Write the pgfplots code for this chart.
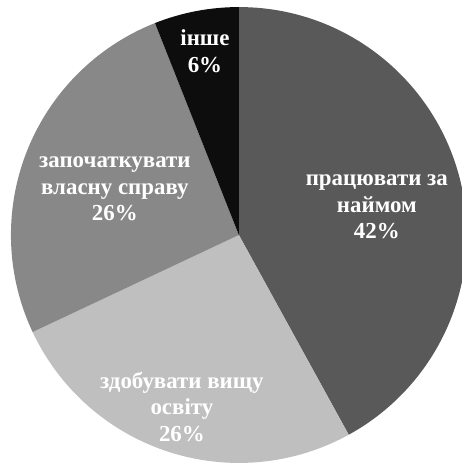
\documentclass[border=0pt]{standalone}
\usepackage{pgfplots}
\usepackage{pgfplotstable}
\pgfplotsset{compat=1.18}
\usepackage{fontspec}
\setmainfont{Liberation Serif}
\definecolor{cDark}{HTML}{595959}
\definecolor{cLight}{HTML}{BFBFBF}
\definecolor{cMid}{HTML}{888888}
\definecolor{cBlack}{HTML}{0D0D0D}
\pgfplotstableread{
idx value
0 42
1 26
2 26
3 6
}\piedata
\begin{document}
\begin{tikzpicture}
\pgfplotstablegetelem{0}{value}\of\piedata \pgfmathsetmacro{\vA}{\pgfplotsretval}
\pgfplotstablegetelem{1}{value}\of\piedata \pgfmathsetmacro{\vB}{\pgfplotsretval}
\pgfplotstablegetelem{2}{value}\of\piedata \pgfmathsetmacro{\vC}{\pgfplotsretval}
\pgfplotstablegetelem{3}{value}\of\piedata \pgfmathsetmacro{\vD}{\pgfplotsretval}
\pgfmathsetmacro{\aO}{90}
\pgfmathsetmacro{\aA}{\aO-3.6*\vA}
\pgfmathsetmacro{\aB}{\aA-3.6*\vB}
\pgfmathsetmacro{\aC}{\aB-3.6*\vC}
\pgfmathsetmacro{\aD}{\aC-3.6*\vD}
\begin{axis}[
  x=3.5cm, y=3.5cm,
  xmin=-1.048, xmax=0.978,
  ymin=-1.009, ymax=1.031,
  hide axis,
  clip=true,
  anchor=origin, at={(0,0)},
]
\fill[cDark]  (axis cs:0,0) -- ++(\aO:3.5cm) arc[start angle=\aO, end angle=\aA, radius=3.5cm] -- cycle;
\fill[cLight] (axis cs:0,0) -- ++(\aA:3.5cm) arc[start angle=\aA, end angle=\aB, radius=3.5cm] -- cycle;
\fill[cMid]   (axis cs:0,0) -- ++(\aB:3.5cm) arc[start angle=\aB, end angle=\aC, radius=3.5cm] -- cycle;
\fill[cBlack] (axis cs:0,0) -- ++(\aC:3.5cm) arc[start angle=\aC, end angle=\aD, radius=3.5cm] -- cycle;
\tikzset{lbl/.style={text=white, align=center, font=\fontsize{10}{11.6}\selectfont\bfseries, inner sep=0pt}}
\node[lbl] at (axis cs:0.605,0.123) {працювати за\\наймом\\42\%};
\node[lbl] at (axis cs:-0.25,-0.754) {здобувати вищу\\освіту\\26\%};
\node[lbl] at (axis cs:-0.544,0.202) {започаткувати\\власну справу\\26\%};
\node[lbl] at (axis cs:-0.149,0.807) {інше\\6\%};
\end{axis}
\pgfresetboundingbox
\useasboundingbox (-1.048*3.5cm,-1.009*3.5cm) rectangle (0.978*3.5cm,1.031*3.5cm);
\end{tikzpicture}
\end{document}
